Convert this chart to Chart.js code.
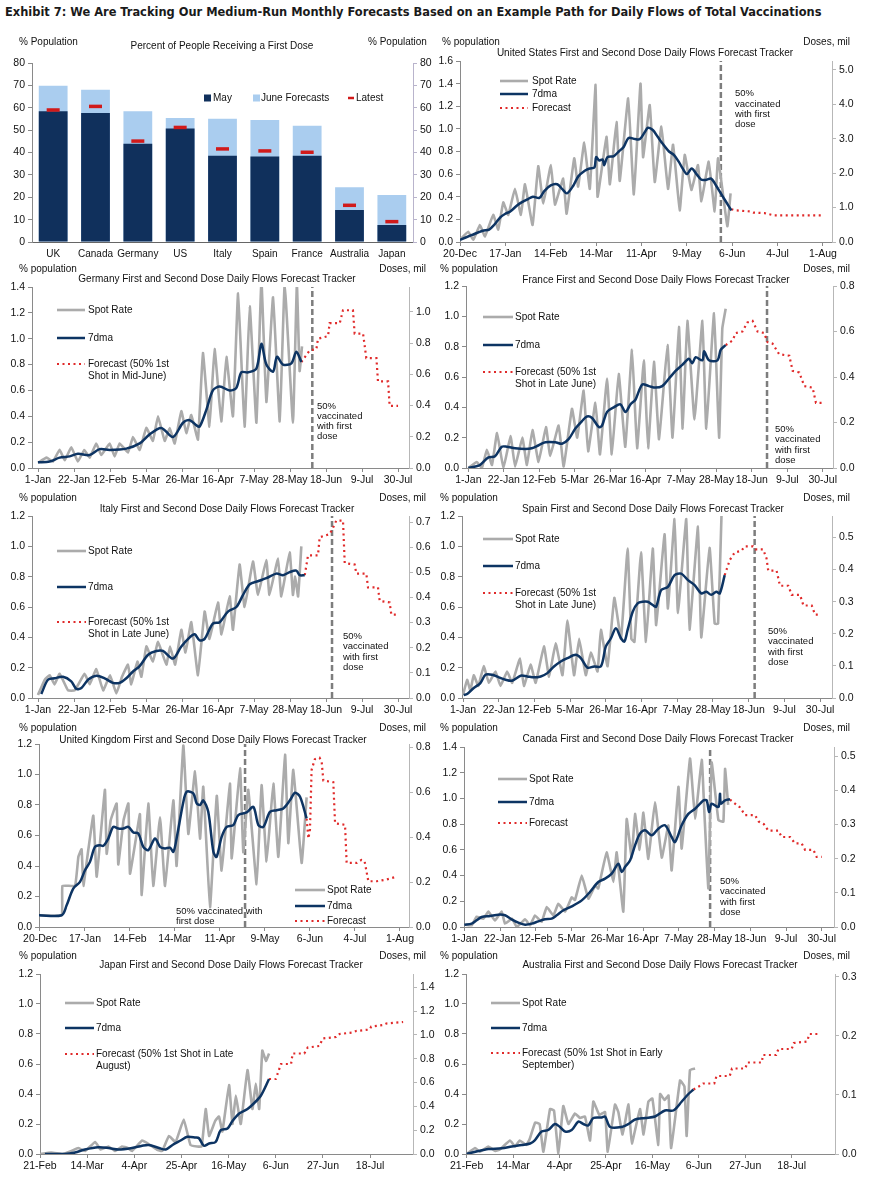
<!DOCTYPE html>
<html><head><meta charset="utf-8">
<script src="https://cdn.jsdelivr.net/npm/chart.js@4.4.1/dist/chart.umd.min.js"></script>
<style>
body{margin:0;background:#fff;width:875px;height:1177px;position:relative;overflow:hidden;font-family:"Liberation Sans",Arial,sans-serif;}
.t{position:absolute;white-space:nowrap;color:#111;}
canvas{position:absolute;}
</style></head><body>
<script>
// ---------------- DATA ----------------
const barCategories = ['UK','Canada','Germany','US','Italy','Spain','France','Australia','Japan'];
const barMay    = [58.4,57.6,43.9,50.7,38.5,38.2,38.5,14.3,7.6];
const barJune   = [69.8,68.1,58.4,55.4,55.1,54.5,51.9,24.5,21.0];
const barLatest = [59.0,60.6,45.1,51.2,41.6,40.7,40.1,16.4,9.1];
const barYTicks = [0,10,20,30,40,50,60,70,80];

const ticks20Dec = ['20-Dec','17-Jan','14-Feb','14-Mar','11-Apr','9-May','6-Jun','4-Jul','1-Aug'];
const ticks1Jan  = ['1-Jan','22-Jan','12-Feb','5-Mar','26-Mar','16-Apr','7-May','28-May','18-Jun','9-Jul','30-Jul'];
const ticks21Feb = ['21-Feb','14-Mar','4-Apr','25-Apr','16-May','6-Jun','27-Jun','18-Jul'];
const yTicks12 = [0,0.2,0.4,0.6,0.8,1.0,1.2];
const yTicks14 = [0,0.2,0.4,0.6,0.8,1.0,1.2,1.4];
const yTicks16 = [0,0.2,0.4,0.6,0.8,1.0,1.2,1.4,1.6];
const usY2Ticks = [0,1,2,3,4,5];
const deY2Ticks = [0,0.2,0.4,0.6,0.8,1.0];
const frY2Ticks = [0,0.2,0.4,0.6,0.8];
const itY2Ticks = [0,0.1,0.2,0.3,0.4,0.5,0.6,0.7];
const esY2Ticks = [0,0.1,0.2,0.3,0.4,0.5];
const ukY2Ticks = [0,0.2,0.4,0.6,0.8];
const caY2Ticks = [0,0.1,0.2,0.3,0.4,0.5];
const jpY2Ticks = [0,0.2,0.4,0.6,0.8,1.0,1.2,1.4];
const auY2Ticks = [0,0.1,0.2,0.3];

// [day, % population]
const usSpot = [[0,0.02],[5.1,0.09],[8.2,0.02],[12.3,0.15],[15.4,0.05],[20.5,0.24],[23.6,0.11],[26.7,0.35],[29.8,0.24],[33.9,0.47],[37.6,0.24],[40.1,0.51],[44.8,0.15],[48.3,0.67],[51.4,0.34],[56.1,0.68],[58.6,0.33],[63.7,0.56],[65.8,0.25],[70.5,0.74],[72.9,0.49],[76.7,0.88],[80.1,0.47],[83.7,1.39],[84.9,0.40],[90.4,0.93],[92.5,0.51],[96.6,1.06],[98.6,0.54],[103.8,1.27],[107.3,0.42],[111.4,1.40],[113,0.75],[117.1,1.21],[120.2,0.53],[124.3,1.02],[128.4,0.47],[131.5,0.86],[135.6,0.28],[138.7,0.77],[142.8,0.46],[146.9,0.68],[149,0.36],[153.5,0.71],[157.2,0.27],[159.3,0.74],[165,0.14],[167,0.43]];
const usMA = [[0,0.02],[7,0.06],[14,0.1],[18,0.11],[21,0.15],[25,0.22],[28,0.25],[31,0.27],[35,0.32],[38,0.35],[42,0.38],[45,0.4],[49,0.39],[52,0.45],[56,0.5],[60,0.51],[63,0.47],[66,0.43],[70,0.5],[73,0.58],[77,0.63],[80,0.65],[83,0.66],[84,0.75],[86,0.72],[88,0.73],[89,0.68],[91,0.75],[95,0.76],[98,0.8],[101,0.84],[104,0.92],[108,0.91],[111,0.91],[114,0.97],[116,1.01],[119,0.99],[122,0.93],[125,0.87],[129,0.8],[132,0.77],[135,0.71],[137,0.66],[140,0.6],[143,0.65],[146,0.6],[149,0.55],[152,0.55],[155,0.56],[158,0.5],[161,0.43],[164,0.36],[167.5,0.28]];
const usForecast = [[167.5,0.29],[170,0.28],[179,0.27],[181,0.26],[188,0.255],[194,0.235],[223,0.235]];
const usHalfDay = 161;

const deSpot = [[0,0.04],[5,0.08],[8.7,0.05],[12.6,0.14],[15.6,0.06],[19.4,0.16],[23.3,0.05],[27,0.14],[30.1,0.08],[34,0.19],[36.9,0.10],[41.8,0.19],[44.7,0.09],[47.6,0.19],[52.5,0.12],[55.4,0.24],[59.3,0.14],[63.2,0.31],[67,0.21],[70,0.40],[73.9,0.21],[76.8,0.31],[79.7,0.19],[83.6,0.44],[86.5,0.27],[89.4,0.41],[93.3,0.22],[96.2,0.89],[100,0.32],[103,0.92],[106.9,0.36],[109.9,0.86],[113.7,0.40],[116.7,1.35],[120.5,0.32],[123.5,1.25],[127.4,0.35],[130.3,1.45],[133.2,0.51],[137.1,1.32],[141,0.36],[143.9,1.42],[148.7,0.35],[151,1.42],[152.6,0.75],[154,0.94]];
const deMA = [[0,0.044],[6.8,0.05],[12.6,0.08],[18.5,0.09],[23.3,0.11],[30.1,0.10],[36,0.146],[41.8,0.14],[51.5,0.15],[59.3,0.19],[65.1,0.26],[71.9,0.31],[78.7,0.24],[84.6,0.35],[88.5,0.37],[92.4,0.33],[94.3,0.32],[98.2,0.45],[102,0.6],[106,0.63],[111.8,0.6],[115.7,0.62],[118.6,0.74],[122.5,0.74],[127.4,0.77],[130.3,0.96],[133.2,0.8],[137.1,0.745],[139.4,0.86],[142.9,0.8],[147.8,0.81],[150.7,0.9],[153.6,0.82]];
const deForecast = [[153.6,0.82],[158.5,0.91],[162.4,0.92],[163.3,1.0],[169.2,1.02],[170.1,1.12],[176,1.12],[177.9,1.22],[183.7,1.22],[184.7,1.04],[189.6,1.04],[191.5,0.85],[197.4,0.85],[198.3,0.67],[204.2,0.67],[205.1,0.48],[210,0.48]];
const deHalfDay = 160;

const frSpot = [[0,0],[5,0.04],[8,0.0],[11,0.12],[14,0.02],[17,0.23],[20.8,0.0],[25,0.21],[27.7,0.01],[32,0.2],[34.7,0.02],[38,0.25],[41.6,0.04],[46,0.27],[48.5,0.08],[53.5,0.28],[56.5,0.01],[61.4,0.39],[64.5,0.2],[68.3,0.51],[71,0.11],[75.3,0.43],[78,0.09],[82.2,0.59],[85,0.09],[89.1,0.62],[93,0.14],[97,0.78],[100,0.13],[104,0.71],[106.5,0.13],[110,0.7],[113,0.19],[118,0.81],[121,0.2],[124.8,0.93],[127,0.26],[129.8,0.97],[134,0.32],[138.7,0.97],[141,0.26],[145.6,1.02],[148.6,0.2],[150.5,0.92],[152.5,1.05]];
const frMA = [[0,0],[4,0.01],[6.9,0.02],[11.9,0.07],[15.8,0.077],[19.8,0.14],[22.8,0.14],[27.7,0.13],[33.7,0.125],[37.6,0.13],[41.6,0.15],[45.6,0.17],[51.5,0.17],[55.5,0.16],[59.4,0.19],[63.4,0.26],[67.4,0.31],[70.3,0.34],[73.3,0.33],[77.3,0.27],[79.2,0.28],[82.2,0.37],[86.2,0.4],[90.1,0.42],[93.1,0.37],[96.1,0.42],[99,0.45],[103,0.55],[107,0.54],[110.9,0.53],[114.9,0.54],[118.9,0.59],[122.8,0.64],[126.8,0.68],[130.7,0.72],[132.7,0.69],[134.7,0.73],[138.7,0.71],[139.7,0.77],[142.6,0.71],[147.6,0.71],[149.6,0.78],[152.5,0.81]];
const frForecast = [[152.5,0.81],[156.5,0.84],[158.5,0.89],[162.4,0.9],[165.4,0.96],[168.4,0.97],[171.4,0.9],[175.3,0.89],[177.3,0.83],[180.3,0.82],[184.2,0.75],[190.2,0.74],[192.2,0.64],[196.1,0.63],[199.1,0.54],[204,0.53],[206,0.43],[210,0.43]];
const frHalfDay = 177;

const itSpot = [[0,0.02],[3.9,0.12],[6.8,0.15],[9.7,0.09],[12.6,0.16],[17.5,0.05],[21.4,0.05],[27.2,0.16],[30.1,0.09],[34,0.19],[38,0.05],[42,0.15],[45.7,0.03],[49,0.14],[52.5,0.22],[54.4,0.09],[58,0.24],[60.3,0.14],[63.2,0.34],[67,0.24],[70,0.37],[74.9,0.22],[77,0.34],[80,0.22],[83.6,0.45],[86,0.3],[89.4,0.5],[93.3,0.15],[97.2,0.57],[100,0.39],[105,0.63],[107,0.42],[111.8,0.67],[113.7,0.45],[117.6,0.88],[120.5,0.6],[125.4,0.9],[128.3,0.68],[133.2,0.91],[135,0.68],[140,0.92],[141.9,0.67],[146.8,0.96],[148.7,0.68],[150,0.8],[151.7,0.67],[153.6,1.0]];
const itMA = [[1.9,0.026],[5.8,0.12],[9.7,0.13],[14.6,0.14],[19.4,0.11],[22.4,0.06],[25.3,0.066],[29.2,0.12],[34,0.147],[38.9,0.13],[43.7,0.10],[47.6,0.10],[51.5,0.13],[55.4,0.175],[59.3,0.21],[64.2,0.285],[69,0.31],[72.9,0.31],[78.7,0.26],[83.6,0.34],[88.5,0.40],[91.4,0.42],[94.3,0.38],[97.2,0.39],[102,0.49],[106,0.50],[110.8,0.57],[115.7,0.60],[119.6,0.68],[123.5,0.75],[128.3,0.77],[133.2,0.79],[139,0.82],[142.9,0.81],[146.8,0.83],[150.7,0.84],[152.6,0.81],[155.6,0.81]];
const itForecast = [[155.6,0.81],[157.5,0.94],[163.3,0.94],[164.3,1.06],[170.1,1.08],[172,1.12],[174,1.17],[177.9,1.17],[178.9,0.89],[184.7,0.88],[185.7,0.82],[191.5,0.82],[192.5,0.73],[198.3,0.73],[199.3,0.64],[205.1,0.63],[206.1,0.55],[210,0.55]];
const itHalfDay = 171.5;

const esSpot = [[0,0.02],[2.4,0.12],[4.3,0.05],[6.3,0.15],[9,0.08],[12.2,0.21],[15.2,0.1],[19.1,0.175],[22,0.08],[26,0.175],[28.9,0.1],[33.5,0.26],[35.8,0.08],[39.8,0.22],[42.7,0.1],[47.6,0.34],[50.6,0.14],[54.5,0.36],[58.5,0.15],[61.4,0.51],[65.3,0.15],[68.3,0.39],[72.2,0.15],[75.2,0.3],[79.1,0.175],[81.1,0.45],[85,0.21],[89,0.66],[92.9,0.39],[96.8,0.985],[99,0.39],[100.8,0.37],[104.7,0.96],[107.6,0.37],[111.6,0.985],[113.6,0.48],[118.5,1.08],[120.5,0.59],[124.4,1.18],[126.4,0.56],[131.3,1.18],[133.2,0.45],[138.2,1.13],[140.1,0.4],[145,0.99],[148,0.49],[150,0.49],[152,1.2]];
const esMA = [[0.4,0.02],[2.4,0.026],[6.3,0.066],[10.2,0.098],[13.2,0.153],[17.1,0.153],[21.1,0.136],[25,0.12],[28.9,0.114],[33.9,0.147],[37.8,0.142],[41.7,0.136],[45.7,0.142],[49.6,0.164],[53.5,0.208],[57.5,0.241],[61.4,0.263],[66.3,0.285],[69.3,0.263],[73.2,0.2],[77.1,0.208],[81.1,0.208],[84,0.34],[87,0.394],[89.9,0.46],[92.9,0.394],[94.9,0.372],[96.8,0.449],[99.8,0.569],[102.7,0.624],[105.7,0.635],[108.6,0.635],[111.6,0.613],[113.6,0.602],[116.5,0.711],[120.5,0.733],[124.4,0.81],[128.3,0.82],[132.3,0.777],[136.2,0.744],[140.1,0.69],[143.1,0.70],[146,0.68],[149,0.70],[151,0.69],[153.9,0.81]];
const esForecast = [[153.9,0.81],[156.9,0.91],[159.8,0.96],[163.7,0.97],[165.7,1.0],[170.6,1.0],[172,0.98],[176.5,0.98],[178.5,0.92],[179.5,0.84],[184.4,0.84],[186.4,0.74],[191.3,0.74],[193.3,0.68],[198.2,0.68],[200.2,0.61],[205.1,0.61],[207,0.55],[210,0.55]];
const esHalfDay = 171.5;

const ukSpot = [[-0.6,0.077],[13.5,0.077],[14,0.27],[21.8,0.27],[23.9,0.46],[25.9,0.51],[27,0.27],[30,0.5],[33.2,0.73],[35.3,0.33],[40.4,0.9],[41.5,0.48],[44,0.7],[47.7,0.81],[48.7,0.41],[52,0.7],[55,0.81],[56,0.35],[60,0.6],[62.2,0.74],[63.3,0.21],[67.4,0.81],[70.5,0.27],[74.7,0.72],[77.8,0.27],[83,0.83],[85,0.4],[89.2,1.19],[92.3,0.61],[96.5,1.02],[99.6,0.58],[101.6,0.92],[105.8,0.13],[110,0.86],[113,0.37],[118.2,0.94],[119.3,0.45],[124.5,1.04],[126.5,0.49],[129.6,0.9],[134.8,0.28],[137.9,0.93],[141,0.43],[145.2,0.94],[148.3,0.46],[152.5,1.13],[154.5,0.55],[157.6,1.03],[162.8,0.42],[165.9,0.85]];
const ukMA = [[-0.6,0.077],[13.5,0.077],[16.6,0.142],[20.7,0.252],[24.9,0.296],[28,0.372],[31.1,0.427],[34.2,0.525],[37.3,0.536],[39.4,0.532],[42.5,0.58],[45.6,0.657],[48.7,0.646],[51.9,0.646],[55,0.657],[58.1,0.62],[61.2,0.613],[64.3,0.526],[67.4,0.504],[71.6,0.58],[74.7,0.526],[77.8,0.515],[80.9,0.52],[83,0.493],[85,0.58],[89.2,0.82],[91.3,0.887],[95.4,0.876],[97.5,0.81],[99.6,0.80],[101.6,0.83],[104.7,0.755],[107.9,0.493],[109.9,0.46],[113,0.59],[116.2,0.657],[120.3,0.668],[123.4,0.734],[128.6,0.751],[132.8,0.788],[135.9,0.668],[139,0.657],[143.1,0.755],[147.3,0.766],[151.4,0.777],[155.6,0.832],[158.7,0.88],[161.8,0.854],[165.9,0.712]];
const ukForecast = [[165.9,0.71],[167,0.58],[168,0.64],[169,1.03],[171,1.1],[174,1.11],[175.3,1.08],[176.3,0.96],[182.5,0.95],[183.6,0.68],[189.8,0.67],[190.8,0.42],[197.1,0.42],[200,0.44],[202,0.43],[204.3,0.3],[209.5,0.3],[215,0.31],[222,0.33]];
const ukHalfDay = 127.6;

const caSpot = [[0,0.018],[4.3,0.013],[7.2,0.08],[11.2,0.065],[14.1,0.12],[18,0.05],[21.9,0.12],[23.9,0.026],[28,0.065],[30.8,0.0],[35.7,0.06],[38.6,0.013],[41.5,0.09],[45.4,0.04],[48.4,0.155],[52.3,0.09],[55.2,0.18],[59.2,0.12],[63.1,0.23],[65,0.21],[69,0.4],[72.9,0.22],[76.8,0.32],[78.7,0.3],[83.6,0.58],[87.6,0.35],[89.5,0.58],[93.4,0.12],[95.4,0.84],[98.3,0.54],[100.3,0.88],[103,0.6],[105.2,0.89],[108.1,0.53],[112,0.97],[116,0.54],[119.9,0.79],[121.8,0.44],[125.8,1.09],[127.7,0.61],[132.6,1.31],[135.6,0.84],[139.5,1.3],[141,0.9],[143.4,0.3],[145.3,1.28],[149.3,0.83],[152.2,0.82],[153.2,1.23],[155,0.95]];
const caMA = [[0,0.018],[4.3,0.026],[7.2,0.052],[10.2,0.078],[15.1,0.086],[20,0.096],[23.9,0.091],[27.8,0.06],[31.7,0.034],[35.7,0.018],[39.6,0.026],[43.5,0.044],[47.4,0.06],[51.3,0.065],[54.3,0.091],[58.2,0.13],[63.1,0.16],[69,0.207],[73.8,0.272],[78.7,0.35],[82.7,0.376],[86.6,0.415],[90.5,0.492],[92.5,0.428],[94.4,0.467],[97.4,0.519],[100.3,0.635],[103.2,0.726],[106.2,0.752],[110.1,0.713],[114,0.765],[117.9,0.791],[121.8,0.70],[123.8,0.661],[127.7,0.791],[131.6,0.88],[135.6,0.92],[138.5,0.959],[140.5,0.985],[142.4,0.985],[143.8,0.894],[145.3,0.959],[149.3,0.933],[150.2,1.037],[150.8,0.96],[153.2,0.985],[156.1,0.993]];
const caForecast = [[156.1,0.99],[158,0.97],[162,0.93],[165,0.87],[170.8,0.87],[173,0.82],[176,0.8],[178.6,0.75],[184.5,0.75],[186.5,0.7],[191.4,0.7],[194.3,0.65],[198.2,0.65],[200.2,0.6],[205.1,0.6],[207,0.545],[210,0.545]];
const caHalfDay = 144.4;

const jpSpot = [[0,0],[5,0.01],[10,0],[14,0.02],[17,0.04],[20,0.02],[24.6,0.08],[27,0.03],[30.5,0.05],[33.5,0.02],[36.5,0.05],[39,0.04],[41,0.02],[45.5,0.09],[49,0.06],[52,0.03],[54.4,0.02],[57.4,0.12],[60.4,0.08],[64,0.23],[67,0.06],[70,0.05],[72,0.05],[73.8,0.3],[75.3,0.12],[78,0.22],[79.7,0.25],[81.2,0.15],[84.2,0.46],[85.7,0.2],[87.2,0.39],[89.4,0.2],[92.4,0.56],[94.6,0.3],[96.1,0.47],[97.6,0.3],[99,0.69],[100.6,0.62],[102,0.67]];
const jpMA = [[2.2,0],[11,0],[15.6,0.01],[20,0.03],[26,0.045],[30.5,0.04],[35,0.03],[41,0.04],[45.5,0.055],[48.4,0.06],[53,0.04],[56,0.03],[59,0.06],[62.6,0.09],[65.6,0.115],[69.3,0.11],[70.8,0.105],[73,0.055],[75.3,0.07],[78.2,0.08],[80.5,0.16],[83.5,0.17],[85.7,0.22],[88.7,0.27],[92.4,0.30],[95.4,0.34],[98.4,0.39],[102,0.5]];
const jpForecast = [[102,0.5],[105,0.5],[107.3,0.6],[111.8,0.6],[112.5,0.67],[117.7,0.67],[119.2,0.71],[124.4,0.72],[125.9,0.77],[131.9,0.78],[133.4,0.8],[139.3,0.81],[140.8,0.82],[146.8,0.83],[147.5,0.85],[152.8,0.86],[154.2,0.87],[161.7,0.88]];

const auSpot = [[0,0],[3.8,0.04],[6,0.015],[9.8,0.05],[13,0.02],[15,0.03],[19.6,0.09],[21.9,0.05],[24,0.09],[27,0.06],[28.5,0.1],[31,0.21],[33,0.2],[34.7,0.015],[37.7,0.3],[39.5,0.29],[41.5,0.005],[43.7,0.32],[46,0.2],[49,0.27],[51.3,0.24],[53.5,0.25],[55.8,0.09],[57.3,0.35],[60,0.26],[62.6,0.28],[63.8,0.015],[67.1,0.33],[68.6,0.28],[70.5,0.13],[73.2,0.33],[74.7,0.07],[78.4,0.3],[80,0.13],[82.2,0.35],[84,0.37],[86.7,0.06],[87.5,0.4],[89.5,0.36],[91.3,0.39],[92.5,0.04],[96.5,0.49],[98.5,0.45],[99.5,0.12],[101,0.56],[103.3,0.57]];
const auMA = [[0,0],[5.3,0.02],[9.8,0.033],[15.8,0.038],[20.4,0.05],[24.9,0.06],[28.7,0.07],[30.9,0.093],[33.9,0.15],[36.9,0.16],[39.9,0.2],[42.2,0.18],[44.5,0.15],[47.5,0.16],[50.5,0.216],[52.8,0.2],[55,0.19],[57.3,0.24],[61.1,0.244],[62.6,0.25],[64.9,0.18],[70.1,0.18],[73.2,0.2],[76.2,0.23],[80.7,0.24],[85.2,0.25],[89.7,0.29],[93.5,0.29],[97.3,0.35],[100.3,0.40],[102.6,0.43]];
const auForecast = [[102.6,0.43],[105,0.45],[107,0.47],[112,0.47],[113,0.52],[119,0.52],[120,0.57],[126,0.57],[127,0.61],[133.5,0.61],[134,0.66],[140,0.66],[141,0.7],[147,0.7],[148,0.74],[154,0.75],[155,0.8],[160,0.8]];

// ---------------- RENDERING ----------------
const FONT = '"Liberation Sans", Arial, Helvetica, sans-serif';
Chart.defaults.font.family = FONT;
Chart.defaults.font.size = 10;
Chart.defaults.color = '#111';
const COL = {spot:'#ababab', ma:'#0d3463', fc:'#e02a2a', vline:'#7d7d7d', axis:'#8a8a8a', axis2:'#b7b7b7',
  may:'#10305c', june:'#aacdef', latest:'#d11a1a'};

const freeLegend = {
  id: 'freeLegend',
  afterDraw(chart, args, o) {
    if (!o || !o.items) return;
    const ctx = chart.ctx;
    o.items.forEach(it => {
      const d = chart.data.datasets[it.ds];
      const x = it.x - o.ox, y = it.y - o.oy;
      ctx.save();
      if (it.kind === 'box') {
        ctx.fillStyle = d.backgroundColor; ctx.fillRect(x, y - 3.5, 7, 7);
      } else if (it.kind === 'mark') {
        ctx.strokeStyle = d.pointBorderColor; ctx.lineWidth = 2.5;
        ctx.beginPath(); ctx.moveTo(x, y); ctx.lineTo(x + it.len, y); ctx.stroke();
      } else {
        ctx.strokeStyle = d.borderColor; ctx.lineWidth = d.borderWidth;
        ctx.setLineDash(d.borderDash || []);
        ctx.beginPath(); ctx.moveTo(x, y); ctx.lineTo(x + it.len, y); ctx.stroke();
      }
      ctx.setLineDash([]);
      ctx.fillStyle = '#111'; ctx.font = '10px ' + FONT; ctx.textBaseline = 'middle'; ctx.textAlign = 'left';
      String(d.label).split('\n').forEach((ln, k) => ctx.fillText(ln, it.tx - o.ox, y + k * 12));
      ctx.restore();
    });
  }
};
Chart.register(freeLegend);

function mkCanvas(box) {
  const cv = document.createElement('canvas');
  cv.width = box[2]; cv.height = box[3];
  cv.style.left = box[0] + 'px'; cv.style.top = box[1] + 'px';
  cv.style.width = box[2] + 'px'; cv.style.height = box[3] + 'px';
  document.body.appendChild(cv);
  return cv;
}
function txt(s, x, y, o = {}) {
  const d = document.createElement('div');
  d.className = 't'; d.textContent = s;
  const size = o.size || 10;
  d.style.font = (o.bold ? 'bold ' : '') + size + 'px ' + (o.family || FONT);
  d.style.lineHeight = size + 'px';
  d.style.top = (y - size / 2 - 1) + 'px';
  if (o.align === 'center') { d.style.left = x + 'px'; d.style.transform = 'translateX(-50%)'; }
  else if (o.align === 'right') { d.style.right = (875 - x) + 'px'; }
  else d.style.left = x + 'px';
  document.body.appendChild(d);
  return d;
}
const P = arr => arr.map(p => ({x: p[0], y: p[1]}));
const fix = (v, d) => Number(v).toFixed(d);

function yAxis(pos, max, ticks, width, dec, color) {
  return {
    type: 'linear', position: pos, min: 0, max: max, display: true,
    afterBuildTicks: s => { s.ticks = ticks.map(v => ({value: v})); },
    ticks: {callback: v => fix(v, dec), padding: 3, color: '#111', font: {size: 10.5}},
    grid: {display: true, drawOnChartArea: false, drawTicks: true, tickLength: 4, color: color},
    border: {display: true, color: color},
    afterFit: s => { s.width = width; }
  };
}

// ----- Bar chart -----
(function () {
  const box = [0, 33, 437, 230], plot = [32, 63, 413, 242];
  const cv = mkCanvas(box);
  new Chart(cv, {
    type: 'bar',
    data: {
      labels: barCategories,
      datasets: [
        {type: 'line', label: 'Latest', data: barLatest, showLine: false, pointStyle: 'line', pointRadius: 6.5,
         pointBorderWidth: 3.5, pointBorderColor: COL.latest, pointBackgroundColor: COL.latest, order: 0},
        {label: 'May', data: barMay, backgroundColor: COL.may, grouped: false, barPercentage: 0.68, categoryPercentage: 1, order: 1},
        {label: 'June Forecasts', data: barJune, backgroundColor: COL.june, grouped: false, barPercentage: 0.68, categoryPercentage: 1, order: 2}
      ]
    },
    options: {
      responsive: false, animation: false, events: [],
      layout: {padding: {top: plot[1] - box[1], left: 0, right: 0, bottom: 0}},
      plugins: {legend: {display: false}, tooltip: {enabled: false},
        freeLegend: {ox: box[0], oy: box[1], items: [
          {ds: 1, kind: 'box', x: 204, y: 98, tx: 213},
          {ds: 2, kind: 'box', x: 253, y: 98, tx: 261},
          {ds: 0, kind: 'mark', x: 348, y: 98, len: 6, tx: 356}
        ]}},
      scales: {
        x: {type: 'category', offset: true,
            grid: {display: false, drawOnChartArea: false, drawTicks: false},
            border: {display: true, color: '#666'},
            ticks: {padding: 6, color: '#111', font: {size: 10}, autoSkip: false, maxRotation: 0},
            afterFit: s => { s.height = box[1] + box[3] - plot[3]; }},
        y: yAxis('left', 80, barYTicks, plot[0] - box[0], 0, COL.axis),
        y2: yAxis('right', 80, barYTicks, box[0] + box[2] - plot[2], 0, '#b9b4cc')
      }
    }
  });
  txt('% Population', 19, 43);
  txt('% Population', 368, 43);
  txt('Percent of People Receiving a First Dose', 222, 47, {align: 'center'});
})();

// ----- Tracker charts -----
function tracker(c) {
  const box = c.box, plot = c.plot;
  const cv = mkCanvas(box);
  const ds = [
    {label: 'Spot Rate', data: P(c.spot), borderColor: COL.spot, borderWidth: 2.6, pointRadius: 0, tension: 0.1, order: 3},
    {label: '7dma', data: P(c.ma), borderColor: COL.ma, borderWidth: 2.5, pointRadius: 0, tension: 0.3, order: 1},
    {label: c.fcLabel, data: P(c.fc), borderColor: COL.fc, borderWidth: 2.2, borderDash: [2, 3.5], pointRadius: 0, tension: 0, order: 2}
  ];
  if (c.half != null) {
    ds.push({label: '50% vaccinated', data: [{x: c.half, y: 0}, {x: c.half, y: c.yMax}], borderColor: COL.vline,
      borderWidth: 2.5, borderDash: [6, 3], pointRadius: 0, order: 4});
  }
  const L = c.legend;
  new Chart(cv, {
    type: 'line',
    data: {datasets: ds},
    options: {
      responsive: false, animation: false, events: [],
      layout: {padding: {top: plot[1] - box[1], left: 0, right: 0, bottom: 0}},
      plugins: {legend: {display: false}, tooltip: {enabled: false},
        freeLegend: {ox: box[0], oy: box[1], items: [
          {ds: 0, x: L.x, y: L.ys[0], len: L.len, tx: L.tx},
          {ds: 1, x: L.x, y: L.ys[1], len: L.len, tx: L.tx},
          {ds: 2, x: L.x, y: L.ys[2], len: L.len, tx: L.tx}
        ]}},
      scales: {
        x: {type: 'linear', min: c.xMin, max: c.xMax,
            afterBuildTicks: s => { s.ticks = c.xLabels.map((_, i) => ({value: i * c.xStep})); },
            ticks: {autoSkip: false, maxRotation: 0, padding: 2, color: '#111', font: {size: 10.5},
                    callback: (v, i) => c.xLabels[i]},
            grid: {display: true, drawOnChartArea: false, drawTicks: true, tickLength: 4, color: COL.axis},
            border: {display: true, color: COL.axis},
            afterFit: s => { s.height = box[1] + box[3] - plot[3]; }},
        y: yAxis('left', c.yMax, c.yTicks, plot[0] - box[0], 1, COL.axis),
        y2: yAxis('right', c.y2Max, c.y2Ticks, box[0] + box[2] - plot[2], 1, COL.axis2)
      }
    }
  });
  txt('% population', c.capL[0], c.capL[1]);
  txt('Doses, mil', c.capR[0], c.capR[1], {align: 'right'});
  txt(c.title, c.titlePos[0], c.titlePos[1], {align: 'center'});
  if (c.note) c.note.lines.forEach((ln, k) => txt(ln, c.note.x, c.note.y + k * c.note.lh, {size: 9.5}));
}

tracker({box: [437, 33, 438, 230], plot: [460, 61, 832, 242], xMin: 0, xMax: 229.6, xLabels: ticks20Dec, xStep: 28,
  yMax: 1.6, yTicks: yTicks16, y2Max: 5.26, y2Ticks: usY2Ticks,
  spot: usSpot, ma: usMA, fc: usForecast, half: usHalfDay, fcLabel: 'Forecast',
  legend: {x: 500, len: 28, tx: 532, ys: [81, 94, 108]},
  capL: [442, 43], capR: [850, 43], title: 'United States First and Second Dose Daily Flows Forecast Tracker', titlePos: [645, 54],
  note: {x: 735, y: 94, lh: 10.4, lines: ['50%', 'vaccinated', 'with first', 'dose']}});

tracker({box: [0, 263, 437, 233], plot: [32, 287, 409, 468], xMin: -3.5, xMax: 216.4, xLabels: ticks1Jan, xStep: 21,
  yMax: 1.4, yTicks: yTicks14, y2Max: 1.16, y2Ticks: deY2Ticks,
  spot: deSpot, ma: deMA, fc: deForecast, half: deHalfDay, fcLabel: 'Forecast (50% 1st\nShot in Mid-June)',
  legend: {x: 57, len: 28, tx: 88, ys: [310, 338, 364]},
  capL: [19, 270], capR: [426, 270], title: 'Germany First and Second Dose Daily Flows Forecast Tracker', titlePos: [217, 280],
  note: {x: 317, y: 407, lh: 10, lines: ['50%', 'vaccinated', 'with first', 'dose']}});

tracker({box: [437, 263, 438, 233], plot: [466, 286, 833, 468], xMin: -1.4, xMax: 216.1, xLabels: ticks1Jan, xStep: 21,
  yMax: 1.2, yTicks: yTicks12, y2Max: 0.8, y2Ticks: frY2Ticks,
  spot: frSpot, ma: frMA, fc: frForecast, half: frHalfDay, fcLabel: 'Forecast (50% 1st\nShot in Late June)',
  legend: {x: 483, len: 30, tx: 515, ys: [317, 345, 372]},
  capL: [440, 270], capR: [850, 270], title: 'France First and Second Dose Daily Flows Forecast Tracker', titlePos: [656, 281],
  note: {x: 775, y: 430, lh: 10.2, lines: ['50%', 'vaccinated', 'with first', 'dose']}});

tracker({box: [0, 496, 437, 230], plot: [32, 516, 409, 698], xMin: -3.5, xMax: 216.4, xLabels: ticks1Jan, xStep: 21,
  yMax: 1.2, yTicks: yTicks12, y2Max: 0.724, y2Ticks: itY2Ticks,
  spot: itSpot, ma: itMA, fc: itForecast, half: itHalfDay, fcLabel: 'Forecast (50% 1st\nShot in Late June)',
  legend: {x: 57, len: 29, tx: 88, ys: [551, 587, 622]},
  capL: [19, 499], capR: [426, 499], title: 'Italy First and Second Dose Daily Flows Forecast Tracker', titlePos: [227, 510],
  note: {x: 343, y: 637, lh: 10.2, lines: ['50%', 'vaccinated', 'with first', 'dose']}});

tracker({box: [437, 496, 438, 230], plot: [462, 516, 832, 698], xMin: -0.6, xMax: 217, xLabels: ticks1Jan, xStep: 21,
  yMax: 1.2, yTicks: yTicks12, y2Max: 0.567, y2Ticks: esY2Ticks,
  spot: esSpot, ma: esMA, fc: esForecast, half: esHalfDay, fcLabel: 'Forecast (50% 1st\nShot in Late June)',
  legend: {x: 483, len: 30, tx: 515, ys: [539, 566, 593]},
  capL: [440, 499], capR: [850, 499], title: 'Spain First and Second Dose Daily Flows Forecast Tracker', titlePos: [653, 510],
  note: {x: 768, y: 632, lh: 10.2, lines: ['50%', 'vaccinated', 'with first', 'dose']}});

tracker({box: [0, 726, 437, 231], plot: [39, 744, 409, 927], xMin: -0.6, xMax: 229.6, xLabels: ticks20Dec, xStep: 28,
  yMax: 1.2, yTicks: yTicks12, y2Max: 0.815, y2Ticks: ukY2Ticks,
  spot: ukSpot, ma: ukMA, fc: ukForecast, half: ukHalfDay, fcLabel: 'Forecast',
  legend: {x: 295, len: 30, tx: 327, ys: [890, 906, 921]},
  capL: [19, 729], capR: [426, 729], title: 'United Kingdom First and Second Dose Daily Flows Forecast Tracker', titlePos: [213, 741],
  note: {x: 176, y: 912, lh: 10.2, lines: ['50% vaccinated with', 'first dose']}});

tracker({box: [437, 726, 438, 231], plot: [464, 747, 834, 927], xMin: -0.2, xMax: 217.2, xLabels: ticks1Jan, xStep: 21,
  yMax: 1.4, yTicks: yTicks14, y2Max: 0.527, y2Ticks: caY2Ticks,
  spot: caSpot, ma: caMA, fc: caForecast, half: caHalfDay, fcLabel: 'Forecast',
  legend: {x: 498, len: 29, tx: 529, ys: [779, 802, 823]},
  capL: [440, 729], capR: [850, 729], title: 'Canada First and Second Dose Daily Flows Forecast Tracker', titlePos: [658, 740],
  note: {x: 720, y: 882, lh: 10.2, lines: ['50%', 'vaccinated', 'with first', 'dose']}});

tracker({box: [0, 957, 437, 220], plot: [40, 974, 413, 1154], xMin: 0, xMax: 166.1, xLabels: ticks21Feb, xStep: 21,
  yMax: 1.2, yTicks: yTicks12, y2Max: 1.512, y2Ticks: jpY2Ticks,
  spot: jpSpot, ma: jpMA, fc: jpForecast, half: null, fcLabel: 'Forecast (50% 1st Shot in Late\nAugust)',
  legend: {x: 65, len: 29, tx: 96, ys: [1003, 1028, 1054]},
  capL: [19, 957], capR: [426, 957], title: 'Japan First and Second Dose Daily Flows Forecast Tracker', titlePos: [231, 966]});

tracker({box: [437, 957, 438, 220], plot: [466, 974, 835, 1154], xMin: -0.3, xMax: 166.6, xLabels: ticks21Feb, xStep: 21,
  yMax: 1.2, yTicks: yTicks12, y2Max: 0.3045, y2Ticks: auY2Ticks,
  spot: auSpot, ma: auMA, fc: auForecast, half: null, fcLabel: 'Forecast (50% 1st Shot in Early\nSeptember)',
  legend: {x: 491, len: 29, tx: 522, ys: [1003, 1028, 1053]},
  capL: [440, 957], capR: [850, 957], title: 'Australia First and Second Dose Daily Flows Forecast Tracker', titlePos: [660, 966]});

// ----- Header -----
(function () {
  const h = txt('Exhibit 7: We Are Tracking Our Medium-Run Monthly Forecasts Based on an Example Path for Daily Flows of Total Vaccinations',
    5, 13, {bold: true, size: 16, family: '"Liberation Sans Narrow", "DejaVu Sans Condensed", Arial, sans-serif'});
  h.style.color = '#1a1a1a';
  const w = h.getBoundingClientRect().width;
  const s = 16 * 817 / w;
  h.style.fontSize = s.toFixed(2) + 'px';
  h.style.lineHeight = s.toFixed(2) + 'px';
  h.style.top = (13 - s / 2 - 1) + 'px';
})();
</script>
</body></html>
